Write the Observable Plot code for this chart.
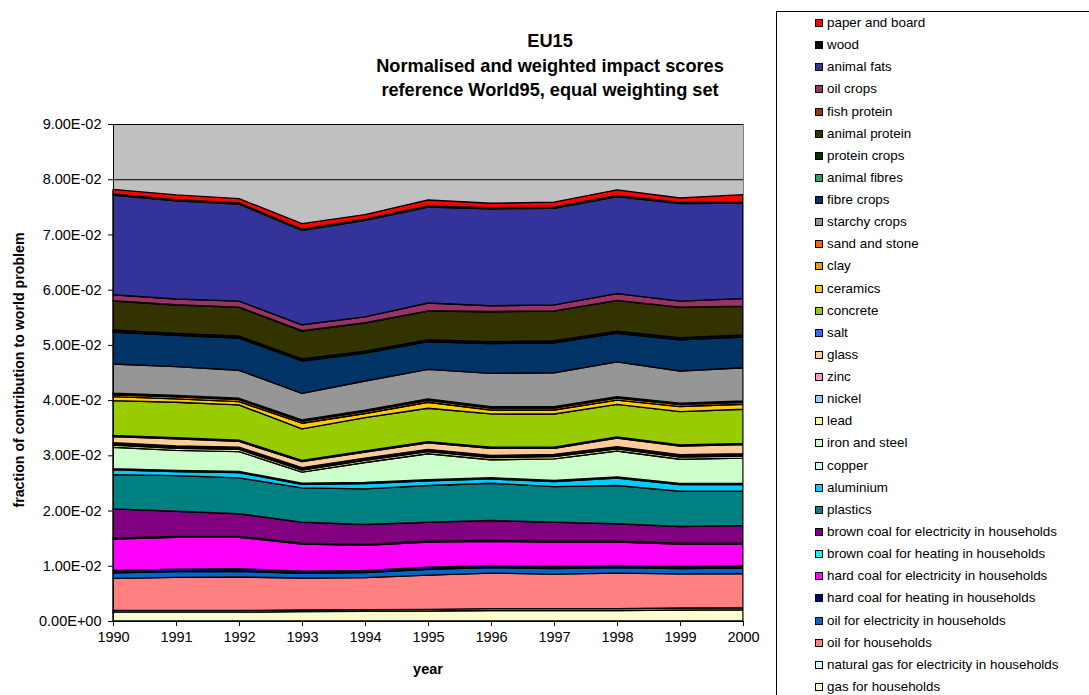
<!DOCTYPE html>
<html>
<head>
<meta charset="utf-8">
<script src="https://cdn.jsdelivr.net/npm/d3@7"></script>
<script src="https://cdn.jsdelivr.net/npm/@observablehq/plot@0.6"></script>
<style>
  body { margin: 0; background: #fff; font-family: "Liberation Sans", Arial, sans-serif; }
  #wrap { position: relative; width: 1089px; height: 695px; overflow: hidden; }
  .title { position: absolute; left: 250px; width: 600px; text-align: center; font-weight: bold; font-size: 18.2px; line-height: 20px; color: #000; }
  .ytitle { position: absolute; left: 19px; top: 370px; transform: translate(-50%, -50%) rotate(-90deg); white-space: nowrap; font-weight: bold; font-size: 14.2px; color: #000; }
  .xtitle { position: absolute; left: 328px; width: 200px; top: 661px; text-align: center; font-weight: bold; font-size: 14.5px; color: #000; }
  #legend { position: absolute; left: 776px; top: 11px; width: 340px; height: 720px; border: 1px solid #000; box-sizing: border-box; }
  .item { position: absolute; left: 38px; height: 16px; display: flex; align-items: center; font-size: 13.4px; line-height: 16px; color: #000; white-space: nowrap; }
  .sw { width: 8px; height: 8px; border: 1px solid #000; box-sizing: border-box; margin-right: 4px; }
  svg { position: absolute; left: 0; top: 0; }
</style>
</head>
<body>
<div id="wrap"></div>
<script>
// Years on the x axis
const years = [1990, 1991, 1992, 1993, 1994, 1995, 1996, 1997, 1998, 1999, 2000];

// Series values, in units of 1E-03 (fraction of contribution to world problem)
const gasHouseholds        = [1.6, 1.6, 1.6, 1.7, 1.75, 1.8, 1.9, 1.9, 1.9, 2.0, 2.05];
const natGasElecHouseholds = [0.3, 0.3, 0.3, 0.3, 0.3, 0.3, 0.35, 0.35, 0.35, 0.35, 0.35];
const oilHouseholds        = [5.81, 6.0, 6.07, 5.79, 5.81, 6.21, 6.42, 6.24, 6.42, 6.19, 6.21];
const oilElecHouseholds    = [1.0, 1.05, 1.05, 0.85, 0.9, 1.05, 1.0, 1.0, 1.0, 0.95, 1.0];
const hardCoalHeating      = [0.45, 0.45, 0.45, 0.4, 0.4, 0.4, 0.4, 0.4, 0.4, 0.4, 0.4];
const hardCoalElec         = [5.69, 5.76, 5.69, 4.91, 4.55, 4.55, 4.37, 4.42, 4.24, 4.06, 3.94];
const brownCoalHeating     = [0.15, 0.15, 0.15, 0.15, 0.15, 0.15, 0.15, 0.15, 0.15, 0.15, 0.15];
const brownCoalElec        = [5.31, 4.57, 4.1, 3.79, 3.62, 3.43, 3.61, 3.43, 3.14, 3.02, 3.2];
const plastics             = [6.2, 6.45, 6.51, 6.22, 6.45, 6.64, 6.74, 6.45, 6.93, 6.38, 6.2];
const aluminium            = [0.85, 0.75, 0.95, 0.65, 0.95, 0.85, 0.8, 0.9, 1.35, 1.2, 1.2];
const copper               = [0.2, 0.2, 0.2, 0.2, 0.2, 0.2, 0.2, 0.2, 0.2, 0.2, 0.2];
const ironAndSteel         = [3.91, 3.61, 3.61, 1.99, 3.62, 4.7, 3.25, 3.92, 4.7, 4.4, 4.59];
const lead                 = [0.4, 0.4, 0.4, 0.4, 0.4, 0.4, 0.4, 0.4, 0.4, 0.4, 0.4];
const nickel               = [0.2, 0.2, 0.2, 0.2, 0.2, 0.2, 0.2, 0.2, 0.2, 0.2, 0.2];
const zinc                 = [0.2, 0.2, 0.2, 0.2, 0.2, 0.2, 0.2, 0.2, 0.2, 0.2, 0.2];
const glass                = [1.11, 1.3, 1.06, 1.11, 1.11, 1.21, 1.28, 1.1, 1.53, 1.6, 1.64];
const salt                 = [0.2, 0.2, 0.2, 0.2, 0.2, 0.2, 0.2, 0.2, 0.2, 0.2, 0.2];
const concrete             = [6.33, 6.43, 6.39, 5.73, 6.02, 6.03, 6.03, 6.03, 5.91, 6.01, 6.22];
const ceramics             = [0.72, 0.61, 0.6, 1.03, 0.74, 1.09, 0.72, 0.72, 0.78, 0.92, 0.9];
const clay                 = [0.35, 0.35, 0.35, 0.35, 0.35, 0.35, 0.35, 0.35, 0.35, 0.35, 0.35];
const sandAndStone         = [0.25, 0.25, 0.25, 0.25, 0.25, 0.25, 0.25, 0.25, 0.25, 0.25, 0.25];
const starchyCrops         = [5.31, 5.24, 5.07, 4.81, 5.29, 5.35, 6.02, 6.15, 6.32, 5.84, 6.02];
const fibreCrops           = [5.8, 5.67, 5.85, 5.86, 5.07, 5.02, 5.38, 5.43, 5.2, 5.67, 5.56];
const animalFibres         = [0.05, 0.05, 0.05, 0.05, 0.05, 0.05, 0.05, 0.05, 0.05, 0.05, 0.05];
const proteinCrops         = [0.3, 0.3, 0.3, 0.3, 0.3, 0.3, 0.3, 0.3, 0.3, 0.3, 0.3];
const animalProtein        = [5.24, 5.14, 5.19, 5.07, 5.07, 5.19, 5.43, 5.37, 5.55, 5.5, 5.19];
const fishProtein          = [0.05, 0.05, 0.05, 0.05, 0.05, 0.05, 0.05, 0.05, 0.05, 0.05, 0.05];
const oilCrops             = [1.09, 1.03, 1.08, 1.08, 1.08, 1.41, 1.03, 1.09, 1.21, 1.08, 1.39];
const animalFats           = [18.07, 17.76, 17.59, 17.12, 17.48, 17.39, 17.58, 17.48, 17.59, 17.66, 17.28];
const wood                 = [0.2, 0.2, 0.2, 0.2, 0.2, 0.2, 0.2, 0.2, 0.2, 0.2, 0.2];
const paperAndBoard        = [0.83, 0.89, 0.77, 0.99, 0.83, 1.07, 0.78, 0.93, 1.01, 0.81, 1.32];

// Series names, bottom of the stack first
const seriesNames = [
  "gas for households", "natural gas for electricity in households", "oil for households",
  "oil for electricity in households", "hard coal for heating in households",
  "hard coal for electricity in households", "brown coal for heating in households",
  "brown coal for electricity in households", "plastics", "aluminium", "copper",
  "iron and steel", "lead", "nickel", "zinc", "glass", "salt", "concrete", "ceramics",
  "clay", "sand and stone", "starchy crops", "fibre crops", "animal fibres",
  "protein crops", "animal protein", "fish protein", "oil crops", "animal fats",
  "wood", "paper and board"
];
const seriesValues = [
  gasHouseholds, natGasElecHouseholds, oilHouseholds, oilElecHouseholds, hardCoalHeating,
  hardCoalElec, brownCoalHeating, brownCoalElec, plastics, aluminium, copper,
  ironAndSteel, lead, nickel, zinc, glass, salt, concrete, ceramics, clay, sandAndStone,
  starchyCrops, fibreCrops, animalFibres, proteinCrops, animalProtein, fishProtein,
  oilCrops, animalFats, wood, paperAndBoard
];
const seriesColors = [
  "#FFFFCC", "#CCFFFF", "#FF8080", "#0066CC", "#000080", "#FF00FF", "#00FFFF", "#800080",
  "#008080", "#00CCFF", "#CCFFFF", "#CCFFCC", "#FFFF99", "#99CCFF", "#FF99CC", "#FFCC99",
  "#3366FF", "#99CC00", "#FFCC00", "#FF9900", "#FF6600", "#969696", "#003366", "#339966",
  "#003300", "#333300", "#993300", "#993366", "#333399", "#000000", "#FF0000"
];

// Tick values
const yTicks = [0, 0.01, 0.02, 0.03, 0.04, 0.05, 0.06, 0.07, 0.08, 0.09];

const titleLines = ["EU15", "Normalised and weighted impact scores", "reference World95, equal weighting set"];
const yTitle = "fraction of contribution to world problem";
const xTitle = "year";

// Build the long table
const rows = [];
seriesNames.forEach((name, i) => {
  years.forEach((yr, j) => rows.push({series: name, year: yr, value: seriesValues[i][j] / 1000}));
});

function sciFormat(d) {
  const [m, e] = d.toExponential(2).split("e");
  const sign = e[0] === "-" ? "-" : "+";
  const digits = e.replace(/[+-]/, "").padStart(2, "0");
  return m + "E" + sign + digits;
}

const chart = Plot.plot({
  width: 1089,
  height: 695,
  marginLeft: 113,
  marginRight: 346,
  marginTop: 124,
  marginBottom: 74,
  style: {fontFamily: "'Liberation Sans', Arial, sans-serif", color: "#000", background: "transparent"},
  x: {domain: [1990, 2000]},
  y: {domain: [0, 0.09]},
  color: {domain: seriesNames, range: seriesColors},
  marks: [
    Plot.frame({fill: "#C0C0C0", stroke: null}),
    Plot.ruleY(yTicks, {stroke: "#000", strokeWidth: 1}),
    Plot.areaY(rows, {x: "year", y: "value", z: "series", fill: "series", stroke: "#000", strokeWidth: 1.4, strokeLinejoin: "round", order: null}),
    Plot.ruleX([1990], {stroke: "#000"}),
    Plot.ruleX([2000], {stroke: "#808080"}),
    Plot.ruleY([0], {stroke: "#000"}),
    Plot.axisY({ticks: yTicks, tickFormat: sciFormat, tickSize: 5, tickPadding: 7, fontSize: 14.5, label: null, stroke: "#000"}),
    Plot.axisX({ticks: years, tickFormat: d => String(d), tickSize: 5, tickPadding: 5, fontSize: 14.5, label: null, stroke: "#000"})
  ]
});

const wrap = document.getElementById("wrap");
wrap.appendChild(chart);

// Titles
const titleCenters = [41, 66, 90];
titleLines.forEach((t, i) => {
  const d = document.createElement("div");
  d.className = "title";
  d.style.top = (titleCenters[i] - 10) + "px";
  d.textContent = t;
  wrap.appendChild(d);
});
const yt = document.createElement("div");
yt.className = "ytitle";
yt.textContent = yTitle;
wrap.appendChild(yt);
const xt = document.createElement("div");
xt.className = "xtitle";
xt.textContent = xTitle;
wrap.appendChild(xt);

// Legend (top of stack first)
const legend = document.createElement("div");
legend.id = "legend";
wrap.appendChild(legend);
const legendOrder = seriesNames.map((n, i) => i).reverse();
legendOrder.forEach((idx, k) => {
  const cy = 23 + k * 22.13 - 12; // relative to legend content box
  const it = document.createElement("div");
  it.className = "item";
  it.style.top = (cy - 8) + "px";
  const sw = document.createElement("div");
  sw.className = "sw";
  sw.style.background = seriesColors[idx];
  const tx = document.createElement("span");
  tx.textContent = seriesNames[idx];
  it.appendChild(sw);
  it.appendChild(tx);
  legend.appendChild(it);
});
</script>
</body>
</html>
